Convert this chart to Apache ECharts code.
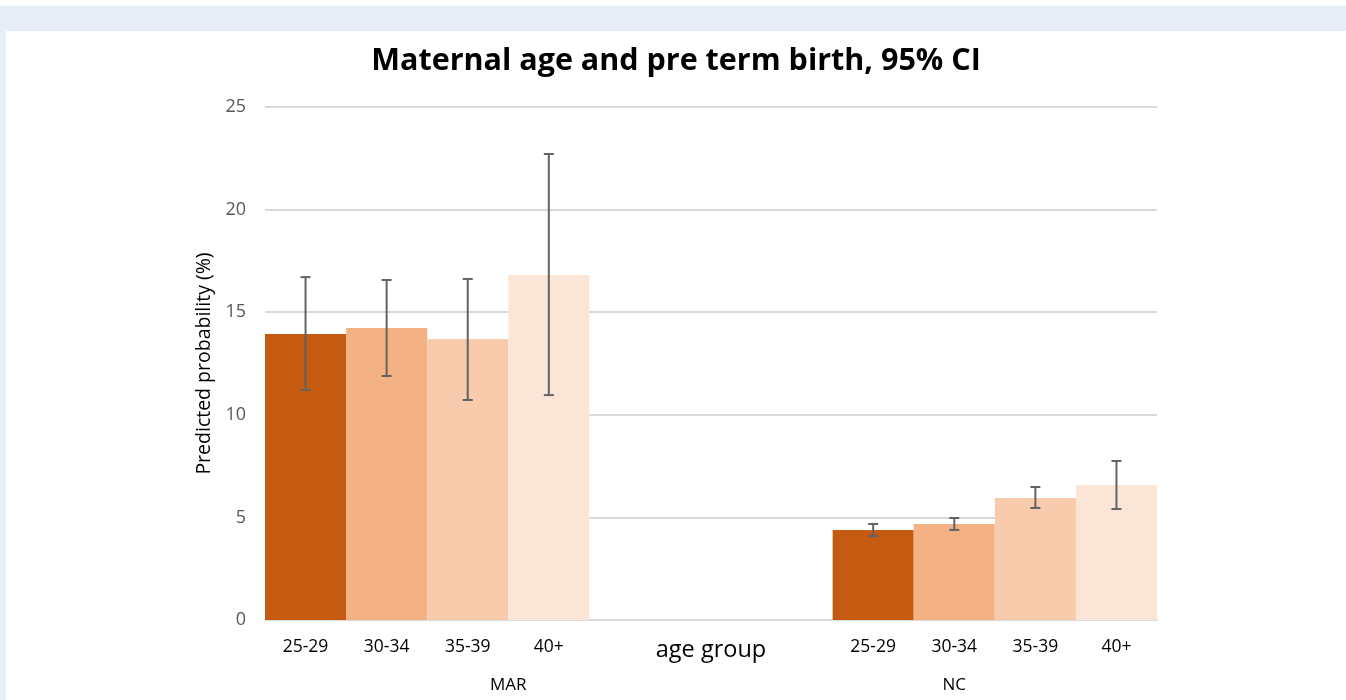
<!DOCTYPE html>
<html>
<head>
<meta charset="utf-8">
<script src="https://cdn.jsdelivr.net/npm/echarts@6/dist/echarts.min.js"></script>
<style>
  html, body { margin: 0; padding: 0; background: #ffffff; }
  #frame { position: absolute; left: 0; top: 6px; width: 1346px; height: 694px; background: #e7eef8; }
  #chart { position: absolute; left: 6px; top: 31px; width: 1340px; height: 669px; background: #ffffff; }
</style>
</head>
<body>
<div id="frame"></div>
<div id="chart"></div>
<script>
// age groups inside each study group
const ageGroups = ['25-29', '30-34', '35-39', '40+']
const groups = ['MAR', 'NC']
// how many category slots each outer group label covers (Excel-style multi-level axis)
const groupSlots = [6, 5]
const middleLabel = 'age group'

// predicted probability (%) with 95% CI
const marValue = [13.94, 14.23, 13.69, 16.81]
const marLow = [11.21, 11.89, 10.72, 10.96]
const marHigh = [16.71, 16.57, 16.62, 22.71]

const ncValue = [4.39, 4.68, 5.95, 6.58]
const ncLow = [4.09, 4.39, 5.46, 5.41]
const ncHigh = [4.68, 4.97, 6.48, 7.75]

const colors = ['#c55a11', '#f4b183', '#f8cbad', '#fbe5d6']

// build 11 slots: 4 MAR, 3 blank (middle one labelled), 4 NC
let cats = [], vals = [], lows = [], highs = []
for (let i = 0; i < ageGroups.length; i++) {
  cats.push(ageGroups[i]); vals.push({ value: marValue[i], itemStyle: { color: colors[i] } })
  lows.push(marLow[i]); highs.push(marHigh[i])
}
cats.push('', middleLabel, '')
for (let i = 0; i < 3; i++) { vals.push('-'); lows.push(null); highs.push(null) }
for (let i = 0; i < ageGroups.length; i++) {
  cats.push(ageGroups[i]); vals.push({ value: ncValue[i], itemStyle: { color: colors[i] } })
  lows.push(ncLow[i]); highs.push(ncHigh[i])
}

const errData = []
for (let i = 0; i < cats.length; i++) {
  if (lows[i] != null) errData.push([i, lows[i], highs[i]])
}

// centres of the outer group labels on a 0..n value scale
const n = cats.length
let groupCentres = [], start = 0
for (let i = 0; i < groupSlots.length; i++) {
  groupCentres.push(start + groupSlots[i] / 2)
  start += groupSlots[i]
}

let chart = echarts.init(document.getElementById('chart'))
chart.setOption({
  animation: false,
  title: {
    left: 'center',
    top: 10,
    text: 'Maternal age and pre term birth, 95% CI',
    textStyle: { fontFamily: 'Open Sans', fontWeight: 'bold', fontSize: 30.5, color: '#000' }
  },
  grid: { left: 259, right: 189, top: 76, bottom: 80 },
  xAxis: [
    {
      type: 'category',
      data: cats,
      axisLine: { lineStyle: { color: '#d9d9d9', width: 2 } },
      axisTick: { show: false },
      axisLabel: {
        interval: 0,
        margin: 18,
        fontFamily: 'Open Sans',
        fontSize: 17.5,
        color: '#000',
        formatter: v => v === middleLabel ? '{big|' + v + '}' : v,
        rich: { big: { fontFamily: 'Open Sans', fontSize: 23.5, color: '#000' } }
      }
    },
    {
      type: 'value',
      position: 'bottom',
      min: 0,
      max: n,
      interval: 0.5,
      offset: 50,
      axisLine: { show: false },
      axisTick: { show: false },
      splitLine: { show: false },
      axisLabel: {
        margin: 7,
        fontFamily: 'Open Sans',
        fontSize: 17,
        color: '#000',
        formatter: v => {
          let k = groupCentres.indexOf(v)
          return k >= 0 ? groups[k] : ''
        }
      }
    }
  ],
  yAxis: {
    type: 'value',
    min: 0,
    max: 25,
    interval: 5,
    name: 'Predicted probability (%)',
    nameLocation: 'middle',
    nameGap: 46,
    nameTextStyle: { fontFamily: 'Open Sans', fontSize: 19.5, color: '#000' },
    axisLine: { show: false },
    axisTick: { show: false },
    axisLabel: { margin: 19, fontFamily: 'Open Sans', fontSize: 18, color: '#595959' },
    splitLine: { lineStyle: { color: '#d9d9d9', width: 2 } }
  },
  series: [
    {
      type: 'bar',
      data: vals,
      barCategoryGap: '0%',
      xAxisIndex: 0
    },
    {
      type: 'custom',
      xAxisIndex: 0,
      data: errData,
      z: 5,
      renderItem: function (params, api) {
        let lo = api.coord([api.value(0), api.value(1)])
        let hi = api.coord([api.value(0), api.value(2)])
        let w = 5
        let style = { stroke: '#636363', lineWidth: 2 }
        return {
          type: 'group',
          children: [
            { type: 'line', shape: { x1: lo[0], y1: lo[1], x2: hi[0], y2: hi[1] }, style: style },
            { type: 'line', shape: { x1: lo[0] - w, y1: lo[1], x2: lo[0] + w, y2: lo[1] }, style: style },
            { type: 'line', shape: { x1: hi[0] - w, y1: hi[1], x2: hi[0] + w, y2: hi[1] }, style: style }
          ]
        }
      }
    }
  ]
})
</script>
</body>
</html>
